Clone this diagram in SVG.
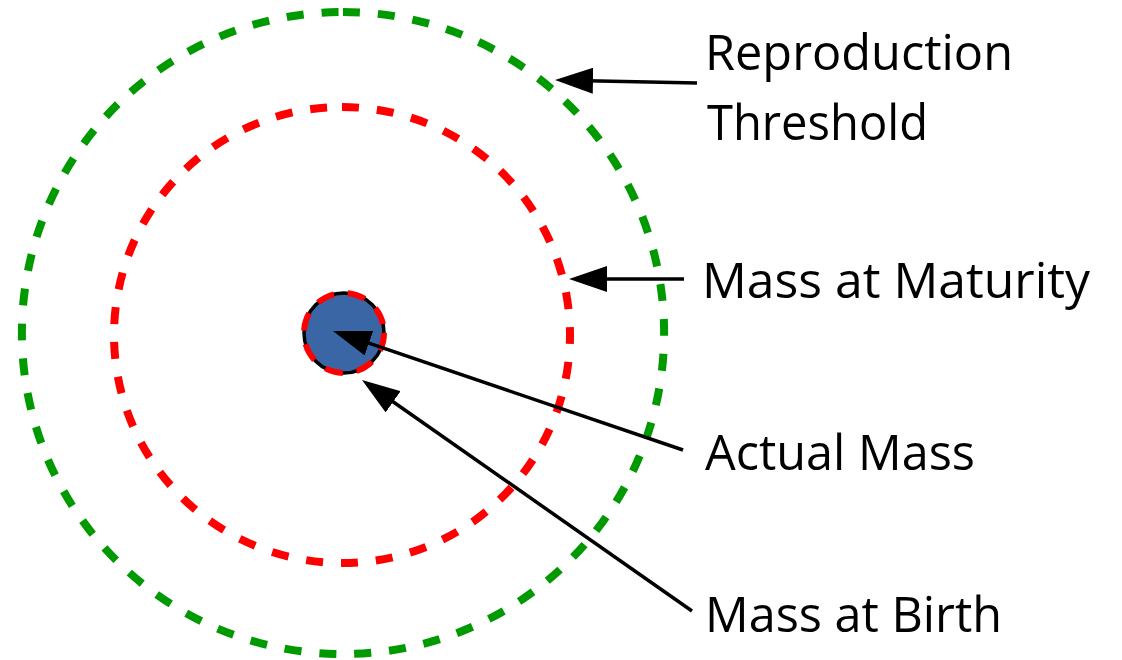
<svg xmlns="http://www.w3.org/2000/svg" width="1122" height="660" viewBox="0 0 1122 660">
  <style>
    .ring { fill: none; stroke-dasharray: 17 18; stroke-width: 8; }
    .green { stroke: #009a00; }
    .red { stroke: #ff0000; }
    .conn { stroke: #000; stroke-width: 3.5; fill: none; marker-end: url(#arrow); }
    .lbl { font-family: "Open Sans", "Noto Sans", sans-serif; font-size: 49px; fill: #000; }
  </style>
  <defs>
    <marker id="arrow" viewBox="0 0 38 26" markerWidth="38" markerHeight="26" markerUnits="userSpaceOnUse" refX="18" refY="13" orient="auto">
      <path d="M0,0 L38,13 L0,26 Z" fill="#000"/>
    </marker>
  </defs>
  <rect width="1122" height="660" fill="#fff"/>

  <g id="reproduction-threshold">
    <path class="ring green" d="M343,12 A321,321 0 1,1 343,654 A321,321 0 1,1 343,12"/>
  </g>
  <g id="mass-at-maturity">
    <path class="ring red" d="M342,107 A228,228 0 1,1 342,563 A228,228 0 1,1 342,107"/>
  </g>
  <g id="actual-mass">
    <circle cx="344" cy="333" r="40" fill="#3a66a6" stroke="#000" stroke-width="3.5"/>
    <circle cx="344" cy="333" r="40" fill="none" stroke="#ff0000" stroke-width="6" stroke-dasharray="18 14"/>
  </g>

  <g id="connectors">
    <line class="conn" x1="697" y1="83" x2="575" y2="80.4"/>
    <line class="conn" x1="684" y1="279" x2="589" y2="279"/>
    <line class="conn" x1="683" y1="450" x2="351.9" y2="337.4"/>
    <line class="conn" x1="692" y1="611" x2="378.4" y2="391.5"/>
  </g>

  <g id="labels">
    <g id="label-reproduction">
      <text class="lbl" x="705" y="70" textLength="308" lengthAdjust="spacingAndGlyphs">Reproduction</text>
      <text class="lbl" x="707" y="140" textLength="221" lengthAdjust="spacingAndGlyphs">Threshold</text>
    </g>
    <g id="label-maturity">
      <text class="lbl" x="702" y="298" textLength="388" lengthAdjust="spacingAndGlyphs">Mass at Maturity</text>
    </g>
    <g id="label-actual">
      <text class="lbl" x="705" y="470" textLength="270" lengthAdjust="spacingAndGlyphs">Actual Mass</text>
    </g>
    <g id="label-birth">
      <text class="lbl" x="705" y="632" textLength="297" lengthAdjust="spacingAndGlyphs">Mass at Birth</text>
    </g>
  </g>
</svg>
